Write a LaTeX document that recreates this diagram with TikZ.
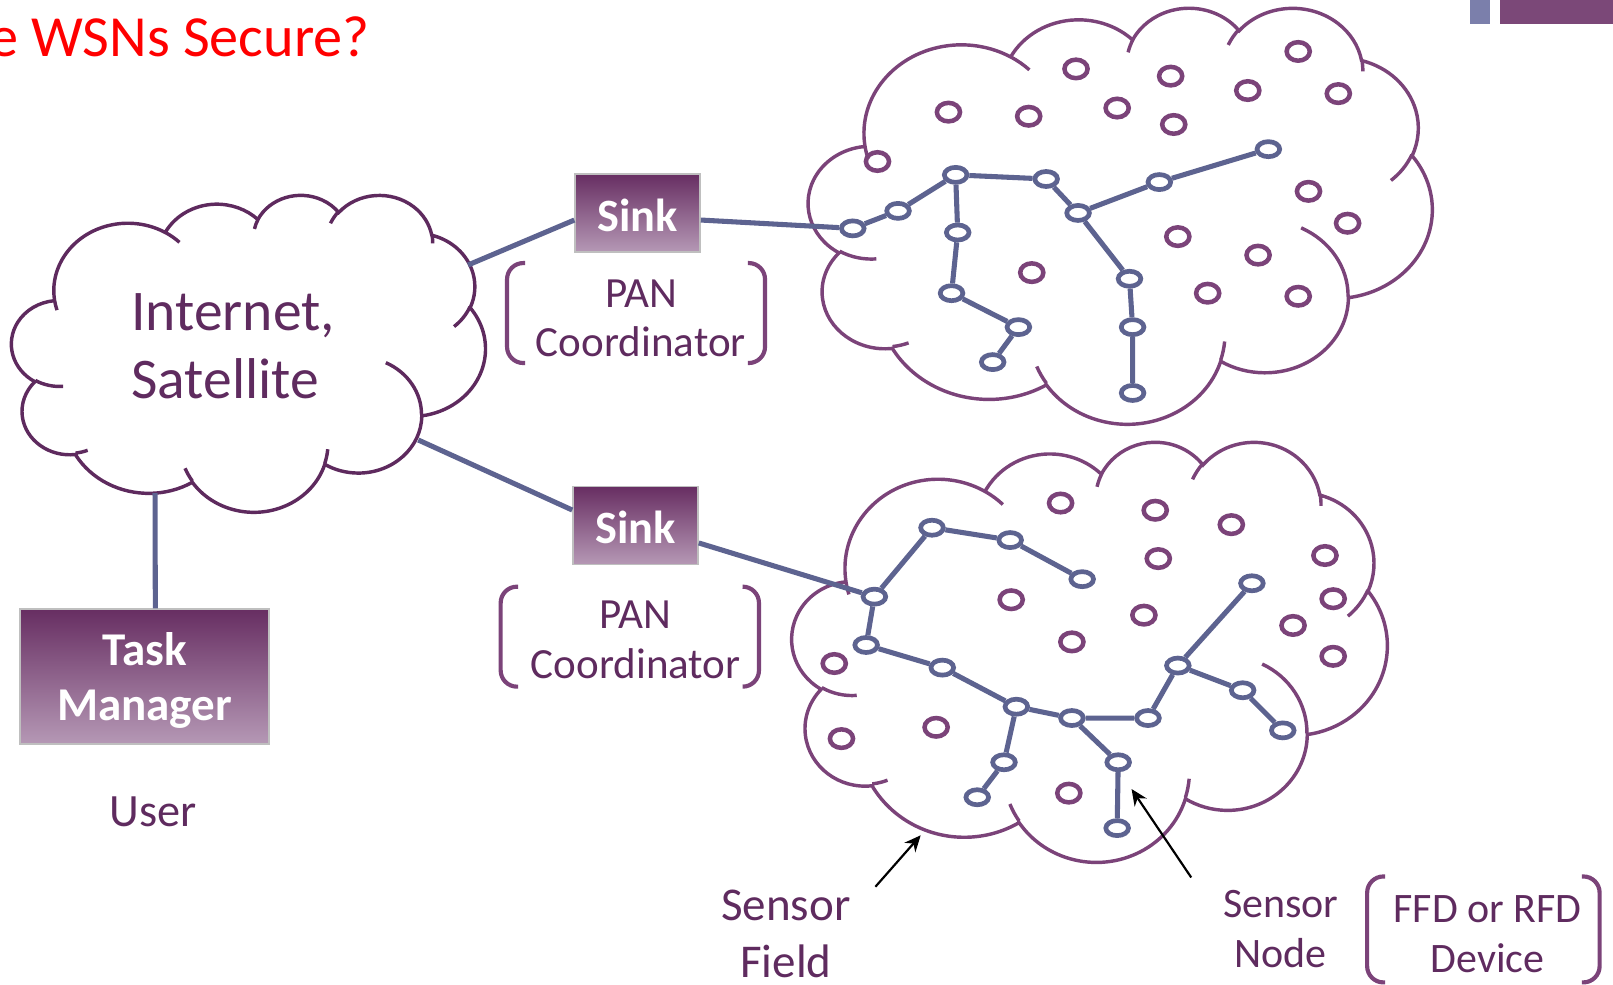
\documentclass[tikz,border=0pt]{standalone}
\usepackage{fontspec}
\setmainfont{Carlito}
\usetikzlibrary{shapes.geometric,arrows.meta}

\definecolor{inkpurple}{HTML}{5F2B5F}
\definecolor{netedge}{HTML}{5E2A5E}
\definecolor{fieldedge}{HTML}{7B4379}
\definecolor{wire}{HTML}{5D6390}
\definecolor{sinktop}{HTML}{672E62}
\definecolor{sinkbottom}{HTML}{B598B5}
\definecolor{barblue}{HTML}{7B7FAB}
\definecolor{barpurple}{HTML}{7B4878}

\tikzset{
  sink/.style      = {shape=rectangle, draw=black!25, line width=0.4pt,
                      top color=sinktop, bottom color=sinkbottom,
                      text=white, align=center,
                      font=\bfseries\fontsize{12.8}{15.2}\selectfont},
  sensor/.style    = {ellipse, draw=wire, fill=white, line width=1.3pt,
                      minimum width=0.22cm, minimum height=0.146cm, inner sep=0pt},
  idle/.style      = {ellipse, draw=fieldedge, line width=1.25pt,
                      minimum width=0.225cm, minimum height=0.18cm, inner sep=0pt},
  link/.style      = {draw=wire, line width=1.4pt},
  lbl/.style       = {text=inkpurple, align=center, inner sep=0pt},
  brack/.style     = {draw=fieldedge, line width=1.15pt, rounded corners=4.5pt},
  pointer/.style   = {draw=black, line width=0.6pt, -{Stealth[length=4.5pt,width=4pt]}},
  cloudline/.style = {line width=0.95pt}
}

% cloud outline in a 432 x 432 box (y pointing down), with the inner puff hints
\newcommand\cloudoutline{
  (39.00,143.70)
  arc[x radius=67.53, y radius=91.90, start angle=172.25, delta angle=128.10]
  arc[x radius=53.33, y radius=72.67, start angle=-152.02, delta angle=106.58]
  arc[x radius=43.65, y radius=59.45, start angle=-153.48, delta angle=116.15]
  arc[x radius=48.57, y radius=65.95, start angle=-139.72, delta angle=129.50]
  arc[x radius=53.33, y radius=72.73, start angle=-74.77, delta angle=97.98]
  arc[x radius=67.75, y radius=92.20, start angle=-37.54, delta angle=119.40]
  arc[x radius=57.85, y radius=78.67, start angle=0.46, delta angle=121.52]
  arc[x radius=67.52, y radius=92.15, start angle=16.84, delta angle=129.40]
  arc[x radius=77.20, y radius=105.43, start angle=58.98, delta angle=91.20]
  arc[x radius=43.60, y radius=59.18, start angle=83.31, delta angle=139.81]
  arc[x radius=43.45, y radius=59.45, start angle=120.35, delta angle=143.76]
  -- cycle
  (46.93,261.77) arc[x radius=43.45, y radius=59.45, start angle=85.54, delta angle=34.81]
  (69.28,348.99) arc[x radius=43.60, y radius=59.18, start angle=68.23, delta angle=15.08]
  (164.78,390.90) arc[x radius=67.52, y radius=92.15, start angle=146.24, delta angle=12.23]
  (288.27,347.51) arc[x radius=67.52, y radius=92.15, start angle=4.73, delta angle=12.11]
  (341.29,229.54) arc[x radius=57.85, y radius=78.67, start angle=-64.03, delta angle=64.49]
  (417.98,153.54) arc[x radius=53.33, y radius=72.73, start angle=23.21, delta angle=26.43]
  (383.24,54.26) arc[x radius=48.57, y radius=65.95, start angle=-10.22, delta angle=11.04]
  (290.78,39.52) arc[x radius=48.57, y radius=65.95, start angle=-156.29, delta angle=16.57]
  (221.41,47.20) arc[x radius=43.65, y radius=59.45, start angle=-167.72, delta angle=14.24]
  (140.00,51.92) arc[x radius=67.53, y radius=91.90, start angle=-59.65, delta angle=13.91]
  (41.27,157.89) arc[x radius=67.53, y radius=91.90, start angle=163.19, delta angle=9.06]
}

\begin{document}
\begin{tikzpicture}[x=0.01cm, y=-0.01cm]
  \useasboundingbox (0,0) rectangle (1568,957);

  \fill[barblue] (1429,0) rectangle (1448,23.3);
  \fill[barpurple] (1458,0) rectangle (1568,23.3);
  \node[anchor=base east, text=red, inner sep=0pt,
        font=\fontsize{16.1}{19}\selectfont] (title) at (360,55.4) {e WSNs Secure?};

  % the three clouds
  \begin{scope}[shift={(11.4,188.9)}, x=0.0106481cm, y=-0.0071227cm]
    \draw[cloudline, draw=netedge] \cloudoutline;
  \end{scope}
  \begin{scope}[shift={(786,6.7)}, x=0.0140278cm, y=-0.0093519cm]
    \draw[cloudline, draw=fieldedge] \cloudoutline;
  \end{scope}
  \begin{scope}[shift={(770,428.6)}, x=0.0133796cm, y=-0.0094421cm]
    \draw[cloudline, draw=fieldedge] \cloudoutline;
  \end{scope}

  \node[lbl, align=left, anchor=west,
        font=\fontsize{15.9}{18.8}\selectfont] (inet) at (127,336.5) {Internet,\\Satellite};
  \coordinate (inet-a) at (455,257.6);
  \coordinate (inet-b) at (406.6,427.7);
  \coordinate (inet-c) at (150.7,479.3);

  \node[sink, minimum width=1.215cm, minimum height=0.757cm, text height=0.36cm] (sink1) at (619.8,206.9) {Sink};
  \node[sink, minimum width=1.215cm, minimum height=0.757cm, text height=0.36cm] (sink2) at (617.8,510.8) {Sink};
  \node[sink, minimum width=2.42cm, minimum height=1.31cm, text depth=0pt,
        font=\bfseries\fontsize{13}{15.2}\selectfont] (task) at (140.5,657.6) {Task\\Manager};
  \node[lbl, anchor=base, font=\fontsize{12.8}{15}\selectfont] (user) at (149,803) {User};

  \node[lbl, font=\fontsize{11.9}{13.7}\selectfont] (pan1) at (623,309.5) {PAN\\Coordinator};
  \node[lbl, font=\fontsize{11.9}{13.9}\selectfont] (pan2) at (618,621.9) {PAN\\Coordinator};
  \draw[brack] (510.4,255.7) -- (492.9,255.7) -- (492.9,352.9) -- (510.4,352.9);
  \draw[brack] (727.1,255.7) -- (743.7,255.7) -- (743.7,352.9) -- (727.1,352.9);
  \draw[brack] (503.6,570.3) -- (486.7,570.3) -- (486.7,667.5) -- (503.6,667.5);
  \draw[brack] (722.3,570.3) -- (737.8,570.3) -- (737.8,667.5) -- (722.3,667.5);

  % upper field
  \node[sensor] (a1) at (829,222) {};   \node[sensor] (a2) at (873,205) {};
  \node[sensor] (a3) at (929,170) {};   \node[sensor] (a4) at (1017,174) {};
  \node[sensor] (a5) at (1048,207) {};  \node[sensor] (a6) at (1127,177) {};
  \node[sensor] (a7) at (1233,145) {};  \node[sensor] (a8) at (931,226) {};
  \node[sensor] (a9) at (925,285) {};   \node[sensor] (a10) at (990,318) {};
  \node[sensor] (a11) at (965,352) {};  \node[sensor] (a12) at (1098,271) {};
  \node[sensor] (a13) at (1101,318) {}; \node[sensor] (a14) at (1101,382) {};

  \node[idle] (d1) at (1046,67) {};   \node[idle] (d2) at (1138,74) {};
  \node[idle] (d3) at (1262,50) {};   \node[idle] (d4) at (1213,88) {};
  \node[idle] (d5) at (1301,91) {};   \node[idle] (d6) at (922,109) {};
  \node[idle] (d7) at (1000,113) {};  \node[idle] (d8) at (1086,105) {};
  \node[idle] (d9) at (1141,121) {};  \node[idle] (d10) at (853,157) {};
  \node[idle] (d11) at (1272,186) {}; \node[idle] (d12) at (1310,217) {};
  \node[idle] (d13) at (1145,230) {}; \node[idle] (d14) at (1223,248) {};
  \node[idle] (d15) at (1003,265) {}; \node[idle] (d16) at (1174,285) {};
  \node[idle] (d17) at (1262,288) {};

  % lower field
  \node[sensor] (b1) at (850,580) {};   \node[sensor] (b2) at (906,513) {};
  \node[sensor] (b3) at (982,525) {};   \node[sensor] (b4) at (1052,563) {};
  \node[sensor] (b5) at (842,627) {};   \node[sensor] (b6) at (916,649) {};
  \node[sensor] (b7) at (988,687) {};   \node[sensor] (b8) at (1042,698) {};
  \node[sensor] (b9) at (1116,698) {};  \node[sensor] (b10) at (1145,647) {};
  \node[sensor] (b11) at (1217,567) {}; \node[sensor] (b12) at (1208,671) {};
  \node[sensor] (b13) at (1247,710) {}; \node[sensor] (b14) at (976,741) {};
  \node[sensor] (b15) at (950,775) {};  \node[sensor] (b16) at (1087,741) {};
  \node[sensor] (b17) at (1086,805) {};

  \node[idle] (e1) at (1031,489) {};  \node[idle] (e2) at (1123,496) {};
  \node[idle] (e3) at (1197,510) {};  \node[idle] (e4) at (1126,543) {};
  \node[idle] (e5) at (1288,540) {};  \node[idle] (e6) at (983,583) {};
  \node[idle] (e7) at (1112,598) {};  \node[idle] (e8) at (1296,582) {};
  \node[idle] (e9) at (1257,608) {};  \node[idle] (e10) at (1042,624) {};
  \node[idle] (e11) at (1296,638) {}; \node[idle] (e12) at (811,645) {};
  \node[idle] (e13) at (818,718) {};  \node[idle] (e14) at (910,707) {};
  \node[idle] (e15) at (1039,771) {};

  % wiring
  \draw[link] (inet-a) -- ([shift={(0,7)}]sink1.west);
  \draw[link] ([shift={(0,7)}]sink1.east) -- (a1);
  \draw[link] (inet-b) -- ([shift={(0,-15)}]sink2.west);
  \draw[link] ([shift={(0,17)}]sink2.east) -- (b1);
  \draw[link] (inet-c) -- ([shift={(10.5,0)}]task.north);

  \draw[link] (a1) -- (a2)  (a2) -- (a3)  (a3) -- (a4)  (a4) -- (a5)  (a5) -- (a6)  (a6) -- (a7);
  \draw[link] (a3) -- (a8)  (a8) -- (a9)  (a9) -- (a10)  (a10) -- (a11);
  \draw[link] (a5) -- (a12)  (a12) -- (a13)  (a13) -- (a14);

  \draw[link] (b1) -- (b2)  (b2) -- (b3)  (b3) -- (b4);
  \draw[link] (b1) -- (b5)  (b5) -- (b6)  (b6) -- (b7)  (b7) -- (b8)  (b8) -- (b9)  (b9) -- (b10)  (b10) -- (b11);
  \draw[link] (b10) -- (b12)  (b12) -- (b13);
  \draw[link] (b7) -- (b14)  (b14) -- (b15);
  \draw[link] (b8) -- (b16)  (b16) -- (b17);

  % labels at the bottom
  \node[lbl, font=\fontsize{13}{15.6}\selectfont] (field) at (764,908) {Sensor\\Field};
  \node[lbl, font=\fontsize{11.6}{13.9}\selectfont] (mote) at (1245,903) {Sensor\\Node};
  \node[lbl, font=\fontsize{11.6}{13.8}\selectfont] (device) at (1446,908) {FFD or RFD\\Device};
  \draw[brack] (1346.6,852) -- (1329,852) -- (1329,955) -- (1346.6,955);
  \draw[brack] (1537.7,852) -- (1555,852) -- (1555,955) -- (1537.7,955);

  \coordinate (fieldtail) at (851,862);
  \coordinate (fieldtip) at (895,812);
  \coordinate (motetail) at (1158,853);
  \coordinate (motetip) at (1100,767);
  \draw[pointer] (fieldtail) -- (fieldtip);
  \draw[pointer] (motetail) -- (motetip);
\end{tikzpicture}
\end{document}
